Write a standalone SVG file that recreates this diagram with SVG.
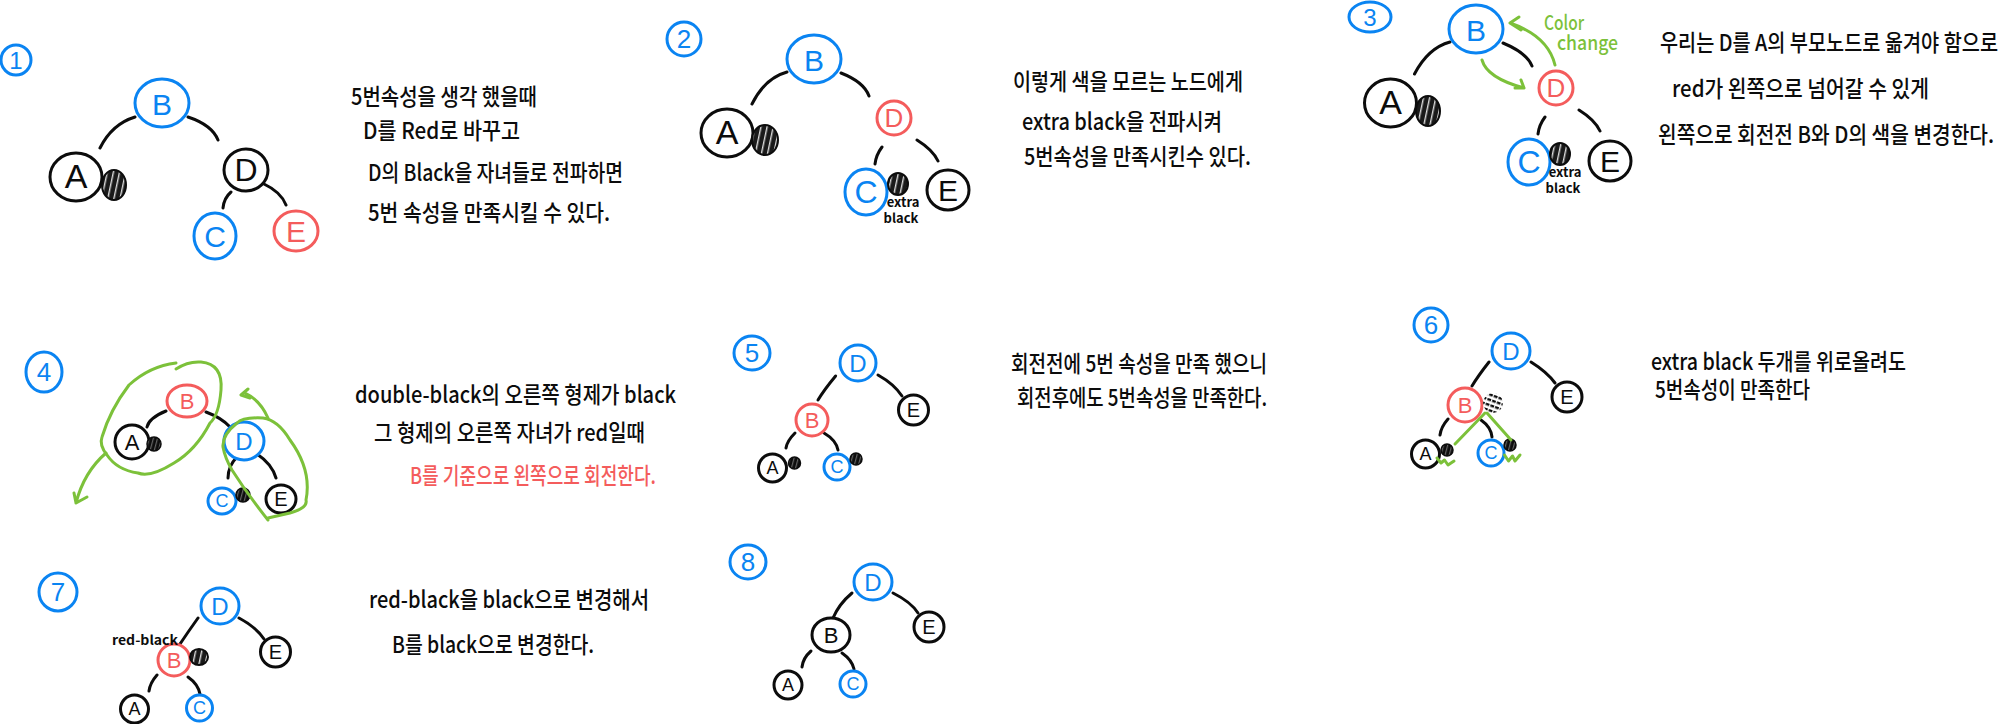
<svg xmlns="http://www.w3.org/2000/svg" width="2000" height="724" viewBox="0 0 2000 724">
<style>
.n{fill:#fff;stroke-width:3;stroke-linejoin:round}
.k{stroke:#0c0c0c}.b{stroke:#0a84f2}.r{stroke:#f45c5c}
.l{font-family:"Liberation Sans","Noto Sans",sans-serif;text-anchor:middle;dominant-baseline:central}
.tk{fill:#0c0c0c}.tb{fill:#0a84f2}.tr{fill:#f45c5c}.tg{fill:#7cc13a}
.t{font-family:"Noto Sans CJK KR","Noto Sans",sans-serif;font-size:23px;fill:#0c0c0c;font-weight:500}
.s{font-family:"Noto Sans CJK KR","Noto Sans",sans-serif;font-size:13px;fill:#0c0c0c;font-weight:700;text-anchor:middle}
.g{font-family:"Noto Sans CJK KR","Noto Sans",sans-serif;font-size:20px;fill:#7cc13a;font-weight:500}
.e{fill:none;stroke:#0c0c0c;stroke-width:3;stroke-linecap:round}
.a{fill:none;stroke:#7cc13a;stroke-width:3;stroke-linecap:round;stroke-linejoin:round}
.h{fill:url(#hatch);stroke:#0c0c0c;stroke-width:2}
.p{fill:url(#fine);stroke:#0c0c0c;stroke-width:1.500}
.d{fill:url(#dots);stroke:none}
</style>
<defs>
<pattern id="hatch" width="6" height="6" patternUnits="userSpaceOnUse" patternTransform="rotate(12)"><rect width="6" height="6" fill="#1a1a1a"/><rect x="2" width="1.4" height="6" fill="#ddd"/></pattern>
<pattern id="fine" width="4" height="4" patternUnits="userSpaceOnUse" patternTransform="rotate(15)"><rect width="4" height="4" fill="#0c0c0c"/><rect x="1.500" width="0.6" height="4" fill="#bbb"/></pattern>
<pattern id="dots" width="5" height="5" patternUnits="userSpaceOnUse" patternTransform="rotate(20)"><rect width="5" height="5" fill="#fff"/><rect width="5" height="2.4" fill="#0c0c0c"/><rect x="3" width="1.2" height="5" fill="#fff"/></pattern>
</defs>

<g id="connectors">
<path class="e" d="M135 117Q112 124 100 148M188 117Q212 125 218 140M231 192Q224 198 223 208M264 184Q281 192 286 205"/>
<path class="e" d="M787 72Q765 78 752 104M841 73Q864 82 869 96M882 147Q876 155 875 164M917 140Q933 150 938 161"/>
<path class="e" d="M1450 42Q1428 48 1414.500 74M1503 43Q1527 53 1532 66M1545 117Q1539 125 1538 134M1579 110Q1595 120 1600 131"/>
<path class="e" d="M166 411Q149 418 147 427M206 412Q222 418 230 427M237 457Q228 466 228 478M257 454Q272 464 276 478"/>
<path class="e" d="M835.600 376Q824 390 818 400M878 375Q894 384 902 396M795 433Q787 441 786 448M824 433Q836 440 838 450"/>
<path class="e" d="M1489 362Q1478 376 1472 386M1531 362Q1547 372 1555 383M1448 419Q1441 427 1440 435M1481 420Q1491 427 1492 437"/>
<path class="e" d="M198 618Q188 632 180 644M239 618Q256 627 264 639M157 675Q150 683 149 691M188 677Q198 684 200 694"/>
<path class="e" d="M852 593Q839 604 833 618M893 593Q911 602 918 613M811 651Q803 658 802 667M842 653Q852 660 854 669"/>
</g>

<g id="step1">
<g id="badge1"><ellipse class="n b" cx="16" cy="60" rx="15" ry="15"/><text class="l tb" x="16" y="60" font-size="24">1</text></g>
<g id="n1-B"><ellipse class="n b" cx="162" cy="103" rx="27" ry="24"/><text class="l tb" x="162" y="104" font-size="30">B</text></g>
<g id="n1-A"><ellipse class="n k" cx="76" cy="177" rx="26" ry="24"/><text class="l tk" x="76" y="176" font-size="34">A</text></g>
<g id="n1-Ax"><ellipse class="h" cx="114" cy="185" rx="12" ry="15"/></g>
<g id="n1-D"><ellipse class="n k" cx="246" cy="170" rx="22" ry="21"/><text class="l tk" x="246" y="170" font-size="32">D</text></g>
<g id="n1-C"><ellipse class="n b" cx="215" cy="236" rx="21" ry="23"/><text class="l tb" x="215" y="236" font-size="30">C</text></g>
<g id="n1-E"><ellipse class="n r" cx="296" cy="231" rx="22" ry="20"/><text class="l tr" x="296" y="231" font-size="30">E</text></g>
<text class="t" x="351" y="105" textLength="186" lengthAdjust="spacingAndGlyphs">5번속성을 생각 했을때</text>
<text class="t" x="363" y="139" textLength="157" lengthAdjust="spacingAndGlyphs">D를 Red로 바꾸고</text>
<text class="t" x="368" y="181" textLength="255" lengthAdjust="spacingAndGlyphs">D의 Black을 자녀들로 전파하면</text>
<text class="t" x="368" y="221" textLength="242" lengthAdjust="spacingAndGlyphs">5번 속성을 만족시킬 수 있다.</text>
</g>

<g id="step2">
<g id="badge2"><ellipse class="n b" cx="684" cy="39" rx="17" ry="17"/><text class="l tb" x="684" y="39" font-size="26">2</text></g>
<g id="n2-B"><ellipse class="n b" cx="814" cy="59" rx="27" ry="24"/><text class="l tb" x="814" y="60" font-size="30">B</text></g>
<g id="n2-A"><ellipse class="n k" cx="727" cy="133" rx="26" ry="24"/><text class="l tk" x="727" y="132" font-size="34">A</text></g>
<g id="n2-Ax"><ellipse class="h" cx="765" cy="140" rx="13" ry="15"/></g>
<g id="n2-D"><ellipse class="n r" cx="894" cy="118" rx="17" ry="17"/><text class="l tr" x="894" y="118" font-size="26">D</text></g>
<g id="n2-C"><ellipse class="n b" cx="866" cy="192" rx="21" ry="23"/><text class="l tb" x="866" y="192" font-size="32">C</text></g>
<g id="n2-Cx"><ellipse class="h" cx="898" cy="184" rx="10" ry="11"/></g>
<g id="n2-E"><ellipse class="n k" cx="948" cy="190" rx="21" ry="20"/><text class="l tk" x="948" y="190" font-size="30">E</text></g>
<text class="s" x="903" y="207">extra</text>
<text class="s" x="901" y="223">black</text>
<text class="t" x="1013" y="90" textLength="230" lengthAdjust="spacingAndGlyphs">이렇게 색을 모르는 노드에게</text>
<text class="t" x="1022" y="130" textLength="200" lengthAdjust="spacingAndGlyphs">extra black을 전파시켜</text>
<text class="t" x="1024" y="165" textLength="227" lengthAdjust="spacingAndGlyphs">5번속성을 만족시킨수 있다.</text>
</g>

<g id="step3">
<g id="badge3"><ellipse class="n b" cx="1370" cy="17" rx="21" ry="15"/><text class="l tb" x="1370" y="17" font-size="24">3</text></g>
<g id="n3-B"><ellipse class="n b" cx="1476" cy="29" rx="27" ry="24"/><text class="l tb" x="1476" y="30" font-size="30">B</text></g>
<g id="n3-A"><ellipse class="n k" cx="1390.500" cy="103" rx="26" ry="24"/><text class="l tk" x="1390.500" y="102" font-size="34">A</text></g>
<g id="n3-Ax"><ellipse class="h" cx="1428" cy="111" rx="12" ry="15"/></g>
<g id="n3-D"><ellipse class="n r" cx="1556" cy="88" rx="17" ry="17"/><text class="l tr" x="1556" y="88" font-size="26">D</text></g>
<g id="n3-C"><ellipse class="n b" cx="1529" cy="162" rx="21" ry="23"/><text class="l tb" x="1529" y="162" font-size="32">C</text></g>
<g id="n3-Cx"><ellipse class="h" cx="1560" cy="154" rx="10" ry="11"/></g>
<g id="n3-E"><ellipse class="n k" cx="1610" cy="161" rx="21" ry="20"/><text class="l tk" x="1610" y="161" font-size="30">E</text></g>
<text class="s" x="1565" y="177">extra</text>
<text class="s" x="1563" y="193">black</text>
<path class="a" d="M1555 65Q1548 36 1510 23M1519 17L1510 23L1521 30M1482 60Q1487 78 1524 88M1521 80L1524 88L1515 88"/>
<text class="g" x="1544" y="30" textLength="40" lengthAdjust="spacingAndGlyphs">Color</text>
<text class="g" x="1557" y="50" textLength="61" lengthAdjust="spacingAndGlyphs">change</text>
<text class="t" x="1660" y="51" textLength="338" lengthAdjust="spacingAndGlyphs">우리는 D를 A의 부모노드로 옮겨야 함으로</text>
<text class="t" x="1672" y="97" textLength="257" lengthAdjust="spacingAndGlyphs">red가 왼쪽으로 넘어갈 수 있게</text>
<text class="t" x="1658" y="143" textLength="336" lengthAdjust="spacingAndGlyphs">왼쪽으로 회전전 B와 D의 색을 변경한다.</text>
</g>

<g id="step4">
<g id="badge4"><ellipse class="n b" cx="44" cy="372" rx="18" ry="20"/><text class="l tb" x="44" y="372" font-size="26">4</text></g>
<g id="n4-B"><ellipse class="n r" cx="187" cy="401" rx="20" ry="16"/><text class="l tr" x="187" y="401" font-size="22">B</text></g>
<g id="n4-A"><ellipse class="n k" cx="132" cy="442" rx="17" ry="17"/><text class="l tk" x="132" y="442" font-size="22">A</text></g>
<g id="n4-Ax"><ellipse class="p" cx="154" cy="444" rx="7" ry="7"/></g>
<g id="n4-D"><ellipse class="n b" cx="244" cy="441" rx="20" ry="19"/><text class="l tb" x="244" y="441" font-size="24">D</text></g>
<g id="n4-C"><ellipse class="n b" cx="222" cy="501" rx="14" ry="13"/><text class="l tb" x="222" y="501" font-size="18">C</text></g>
<g id="n4-Cx"><ellipse class="p" cx="243" cy="495" rx="7" ry="7"/></g>
<g id="n4-E"><ellipse class="n k" cx="281" cy="499" rx="15" ry="14"/><text class="l tk" x="281" y="499" font-size="20">E</text></g>
<path class="a" d="M176 369Q188 361 201 362Q223 364 221 390Q219 415 210 423Q196 450 174 463Q150 478 138 473Q117 470 107 455Q99 445 102 437Q110 410 129 385Q150 366 176 363"/>
<path class="a" d="M106 453Q84 472 76 503M74 493L76 503L87 497"/>
<path class="a" d="M268 518L290 513Q308 508 306 500Q312 470 290 440Q278 420 263 418Q243 417 237 423Q222 435 223 447Q225 458 232 470Q248 495 268 520"/>
<path class="a" d="M268 418Q260 400 245 393M241 395L248 389M241 395L250 398"/>
<text class="t" x="355" y="403" textLength="321" lengthAdjust="spacingAndGlyphs">double-black의 오른쪽 형제가 black</text>
<text class="t" x="374" y="441" textLength="271" lengthAdjust="spacingAndGlyphs">그 형제의 오른쪽 자녀가 red일때</text>
<text class="t" x="410" y="484" textLength="246" lengthAdjust="spacingAndGlyphs" style="fill:#f45c5c">B를 기준으로 왼쪽으로 회전한다.</text>
</g>

<g id="step5">
<g id="badge5"><ellipse class="n b" cx="752" cy="353" rx="18" ry="17"/><text class="l tb" x="752" y="353" font-size="26">5</text></g>
<g id="n5-D"><ellipse class="n b" cx="858" cy="363" rx="18" ry="18"/><text class="l tb" x="858" y="363" font-size="24">D</text></g>
<g id="n5-B"><ellipse class="n r" cx="812" cy="420" rx="16" ry="16"/><text class="l tr" x="812" y="420" font-size="22">B</text></g>
<g id="n5-E"><ellipse class="n k" cx="913.500" cy="410" rx="15" ry="15"/><text class="l tk" x="913.500" y="410" font-size="20">E</text></g>
<g id="n5-A"><ellipse class="n k" cx="772.500" cy="468" rx="14" ry="14"/><text class="l tk" x="772.500" y="468" font-size="18">A</text></g>
<g id="n5-Ax"><ellipse class="p" cx="794.500" cy="463" rx="6" ry="6"/></g>
<g id="n5-C"><ellipse class="n b" cx="837" cy="467" rx="13" ry="13"/><text class="l tb" x="837" y="467" font-size="18">C</text></g>
<g id="n5-Cx"><ellipse class="p" cx="856" cy="459" rx="6" ry="6"/></g>
<text class="t" x="1011" y="372" textLength="256" lengthAdjust="spacingAndGlyphs">회전전에 5번 속성을 만족 했으니</text>
<text class="t" x="1017" y="406" textLength="250" lengthAdjust="spacingAndGlyphs">회전후에도 5번속성을 만족한다.</text>
</g>

<g id="step6">
<g id="badge6"><ellipse class="n b" cx="1431" cy="325" rx="17" ry="17"/><text class="l tb" x="1431" y="325" font-size="26">6</text></g>
<g id="n6-D"><ellipse class="n b" cx="1511" cy="351" rx="19" ry="18"/><text class="l tb" x="1511" y="351" font-size="24">D</text></g>
<g id="n6-B"><ellipse class="n r" cx="1465" cy="405" rx="17" ry="17"/><text class="l tr" x="1465" y="405" font-size="22">B</text></g>
<g id="n6-Bx"><ellipse class="d" cx="1493" cy="403" rx="10" ry="10"/></g>
<g id="n6-E"><ellipse class="n k" cx="1567" cy="397" rx="15" ry="15"/><text class="l tk" x="1567" y="397" font-size="20">E</text></g>
<g id="n6-A"><ellipse class="n k" cx="1425.500" cy="454" rx="14" ry="14"/><text class="l tk" x="1425.500" y="454" font-size="18">A</text></g>
<g id="n6-Ax"><ellipse class="p" cx="1447" cy="450" rx="6" ry="6"/></g>
<g id="n6-C"><ellipse class="n b" cx="1491" cy="453" rx="13" ry="13"/><text class="l tb" x="1491" y="453" font-size="18">C</text></g>
<g id="n6-Cx"><ellipse class="p" cx="1510" cy="445" rx="6" ry="6"/></g>
<path class="a" d="M1485 413L1455 444M1487 413L1511 440M1437 458L1441 463L1444.500 460L1448 465L1454 461M1504.500 455L1508.500 461L1512.500 456L1515 461L1520 455"/>
<text class="t" x="1651" y="370" textLength="255" lengthAdjust="spacingAndGlyphs">extra black 두개를 위로올려도</text>
<text class="t" x="1655" y="398" textLength="155" lengthAdjust="spacingAndGlyphs">5번속성이 만족한다</text>
</g>

<g id="step7">
<g id="badge7"><ellipse class="n b" cx="58" cy="592" rx="19" ry="19"/><text class="l tb" x="58" y="592" font-size="26">7</text></g>
<g id="n7-D"><ellipse class="n b" cx="220" cy="606" rx="19" ry="18"/><text class="l tb" x="220" y="606" font-size="24">D</text></g>
<g id="n7-B"><ellipse class="n r" cx="174" cy="660" rx="16" ry="16"/><text class="l tr" x="174" y="660" font-size="22">B</text></g>
<g id="n7-Bx"><ellipse class="h" cx="199" cy="657" rx="9" ry="8"/></g>
<g id="n7-E"><ellipse class="n k" cx="275.500" cy="652" rx="15" ry="15"/><text class="l tk" x="275.500" y="652" font-size="20">E</text></g>
<g id="n7-A"><ellipse class="n k" cx="134.500" cy="709" rx="14" ry="14"/><text class="l tk" x="134.500" y="709" font-size="18">A</text></g>
<g id="n7-C"><ellipse class="n b" cx="199.500" cy="708" rx="13" ry="13"/><text class="l tb" x="199.500" y="708" font-size="18">C</text></g>
<text class="s" x="112" y="645" style="text-anchor:start" textLength="66" lengthAdjust="spacingAndGlyphs">red-black</text>
<text class="t" x="369" y="608" textLength="280" lengthAdjust="spacingAndGlyphs">red-black을 black으로 변경해서</text>
<text class="t" x="392" y="653" textLength="202" lengthAdjust="spacingAndGlyphs">B를 black으로 변경한다.</text>
</g>

<g id="step8">
<g id="badge8"><ellipse class="n b" cx="748" cy="562" rx="18" ry="17"/><text class="l tb" x="748" y="562" font-size="26">8</text></g>
<g id="n8-D"><ellipse class="n b" cx="873" cy="582" rx="19" ry="18"/><text class="l tb" x="873" y="582" font-size="24">D</text></g>
<g id="n8-B"><ellipse class="n k" cx="831" cy="635" rx="19" ry="17"/><text class="l tk" x="831" y="635" font-size="22">B</text></g>
<g id="n8-E"><ellipse class="n k" cx="929" cy="627" rx="15" ry="15"/><text class="l tk" x="929" y="627" font-size="20">E</text></g>
<g id="n8-A"><ellipse class="n k" cx="788" cy="685" rx="14" ry="14"/><text class="l tk" x="788" y="685" font-size="18">A</text></g>
<g id="n8-C"><ellipse class="n b" cx="853" cy="684" rx="13" ry="13"/><text class="l tb" x="853" y="684" font-size="18">C</text></g>
</g>
</svg>
